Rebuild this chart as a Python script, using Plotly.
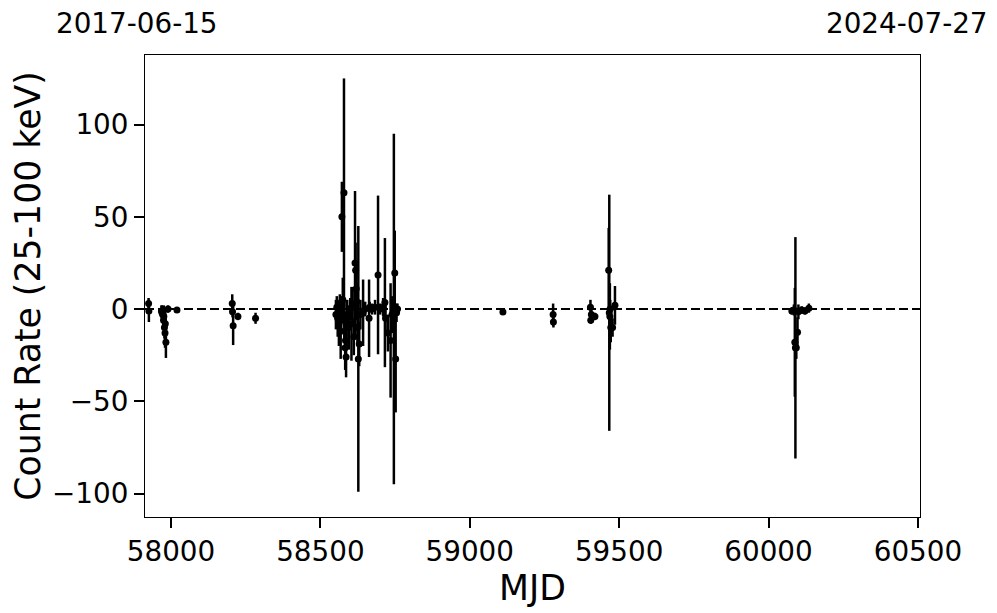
import plotly.graph_objects as go

# MJD, count rate (25-100 keV), 1-sigma error
mjd = [
    57925, 57926, 57968, 57970, 57972, 57975, 57976, 57978, 57980, 57981,
    57983, 57990, 58020,
    58205, 58206, 58208, 58224, 58283,
    58552, 58555, 58558, 58562, 58565, 58568, 58570, 58572, 58575, 58579,
    58580, 58583, 58586, 58584, 58588, 58590, 58595, 58600, 58604, 58608,
    58612, 58616, 58618, 58620, 58622, 58624, 58627, 58630, 58634, 58643,
    58650, 58663, 58665, 58673, 58683, 58693, 58700, 58710, 58716, 58718,
    58726, 58735, 58740, 58746, 58749, 58752, 58755, 58758,
    59111, 59279, 59280,
    59404, 59407, 59405, 59419, 59465, 59467, 59469, 59472, 59470, 59478, 59486,
    60078, 60085, 60088, 60090, 60093, 60097, 60100, 60111, 60122, 60135,
]
rate = [
    3.0, -1.0, -1.0, -2.0, -3.0, -6.0, -4.0, -10.0, -13.0, -8.0,
    -18.0, 0.0, -0.5,
    3.0, -1.5, -9.0, -4.0, -5.0,
    -3.0, 1.0, -5.0, -8.0, 2.0, -12.0, -2.0, 50.0, 5.0, 63.0,
    -6.0, -21.0, -26.0, -17.0, -8.0, -3.0, -10.0, 0.0, -8.0, 2.0,
    -15.0, 25.0, 21.0, 11.0, 4.0, -10.0, -27.0, -19.0, -3.0, -2.0,
    0.0, -5.0, 1.0, 0.0, 1.0, 18.5, 0.0, 1.0, 3.5, -5.0,
    -13.0, -17.0, -3.0, 0.0, 19.5, -27.0, -2.0, 0.0,
    -1.6, -3.0, -7.0,
    1.0, -3.0, -6.0, -4.0, 21.0, -2.0, -4.0, -10.0, 0.0, -10.0, 2.0,
    -1.0, -0.5, -18.0, -21.0, -21.0, -12.5, -1.5, -0.5, -1.0, 0.5,
]
err = [
    3, 6, 3, 4, 4, 5, 6, 6, 8, 7,
    8.5, 2, 1.5,
    5, 3, 10.5, 2, 3,
    8, 6, 10, 12, 6, 15, 9, 19, 12, 62,
    10, 12, 11, 10, 12, 8, 12, 6, 20, 10,
    10, 39, 15, 15, 10, 8, 72, 12, 8, 18,
    4, 21, 3, 3, 4, 43, 3, 5, 35, 8,
    10, 31, 10, 95, 23, 29, 5, 3,
    1.5, 6, 3,
    4, 3, 2, 2, 23, 64, 18, 8, 5, 5, 10.5,
    2, 3, 29.5, 60, 6, 8, 4, 2, 2, 2.5,
]

x_ticks = [58000, 58500, 59000, 59500, 60000, 60500]
y_ticks = [-100, -50, 0, 50, 100]
x_range = [57913, 60507]
y_range = [-112.7, 137.7]
start_label = "2017-06-15"
end_label = "2024-07-27"

FONT = "DejaVu Sans"
TICK_SIZE = 27.8
LABEL_SIZE = 34.7

fig = go.Figure()
fig.add_trace(go.Scatter(
    x=mjd, y=rate, mode="markers",
    marker=dict(color="black", size=7),
    error_y=dict(type="data", array=err, visible=True, color="black",
                 thickness=2.5, width=0),
    showlegend=False,
))

fig.add_shape(type="line", xref="paper", x0=0, x1=1, yref="y", y0=0, y1=0,
              line=dict(color="black", width=2, dash="9px,4px"), layer="above")

axis_common = dict(
    showgrid=False, zeroline=False, showline=True, linecolor="black",
    linewidth=1, mirror=True, ticks="outside", ticklen=10, tickwidth=1.5,
    tickcolor="black", tickfont=dict(family=FONT, size=TICK_SIZE, color="black"),
    automargin=False,
)

# page body has an 8px margin; figure is sized/placed to compensate
fig.update_layout(
    width=989, height=605,
    margin=dict(l=137, r=77, t=47, b=96),
    paper_bgcolor="white", plot_bgcolor="white",
    font=dict(family=FONT, color="black"),
    xaxis=dict(range=x_range, tickvals=x_ticks, ticktext=[str(v) for v in x_ticks],
               title=dict(text="MJD", font=dict(family=FONT, size=LABEL_SIZE), standoff=6),
               **axis_common),
    yaxis=dict(range=y_range, tickvals=y_ticks,
               title=dict(text="Count Rate (25-100 keV)",
                          font=dict(family=FONT, size=LABEL_SIZE), standoff=12),
               **axis_common),
    annotations=[
        dict(text=start_label, xref="paper", yref="paper", x=(137 - 145) / 775, y=1,
             yshift=32, xanchor="center", yanchor="middle", showarrow=False,
             font=dict(family=FONT, size=TICK_SIZE, color="black")),
        dict(text=end_label, xref="paper", yref="paper", x=(907 - 145) / 775, y=1,
             yshift=32, xanchor="center", yanchor="middle", showarrow=False,
             font=dict(family=FONT, size=TICK_SIZE, color="black")),
    ],
)

fig.write_html("out.html")
